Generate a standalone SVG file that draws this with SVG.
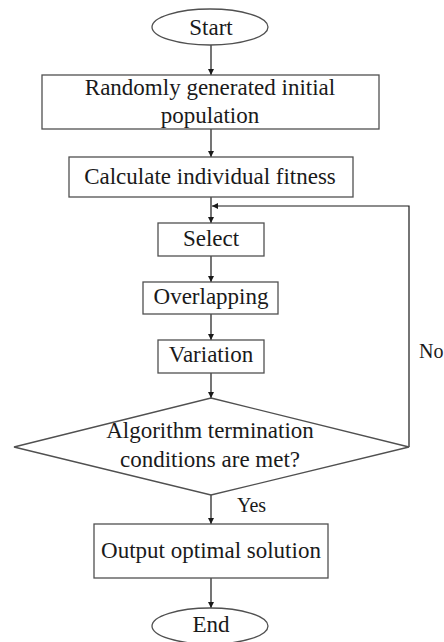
<svg xmlns="http://www.w3.org/2000/svg" width="444" height="642" viewBox="0 0 444 642">
<style>
.box{fill:#fff;stroke:#505050;stroke-width:1.3}
.t{font-family:"Liberation Serif","Times New Roman",serif;font-size:23px;fill:#1a1a1a;text-anchor:middle}
.lbl{font-family:"Liberation Serif","Times New Roman",serif;font-size:20px;fill:#1a1a1a}
.c{fill:none;stroke:#1a1a1a;stroke-width:1.2}
</style>
<defs>
<marker id="ah" markerUnits="userSpaceOnUse" markerWidth="7" markerHeight="7" refX="6" refY="3" orient="auto">
<path d="M0,0 L6,3 L0,6 z" fill="#1a1a1a"/>
</marker>
</defs>
<rect width="444" height="642" fill="#fff"/>
<g id="connectors">
<line class="c" x1="211" y1="45" x2="211" y2="75" marker-end="url(#ah)"/>
<line class="c" x1="211" y1="129" x2="211" y2="157" marker-end="url(#ah)"/>
<line class="c" x1="211" y1="197" x2="211" y2="223" marker-end="url(#ah)"/>
<line class="c" x1="211" y1="256" x2="211" y2="282" marker-end="url(#ah)"/>
<line class="c" x1="211" y1="314" x2="211" y2="340" marker-end="url(#ah)"/>
<line class="c" x1="211" y1="373" x2="211" y2="398" marker-end="url(#ah)"/>
<polyline class="c" points="409,447 409,206 212,206" marker-end="url(#ah)"/>
<line class="c" x1="211" y1="495" x2="211" y2="524" marker-end="url(#ah)"/>
<line class="c" x1="211" y1="578" x2="211" y2="608" marker-end="url(#ah)"/>
<text class="lbl" x="419" y="358">No</text>
<text class="lbl" x="237" y="512">Yes</text>
</g>
<g id="start">
<ellipse class="box" cx="210" cy="27" rx="58" ry="18"/>
<text class="t" x="211" y="35">Start</text>
</g>
<g id="init">
<rect class="box" x="42" y="75" width="337" height="54"/>
<text class="t" x="210" y="95">Randomly generated initial</text>
<text class="t" x="210" y="123">population</text>
</g>
<g id="fitness">
<rect class="box" x="69" y="157" width="284" height="40"/>
<text class="t" x="210" y="184">Calculate individual fitness</text>
</g>
<g id="select">
<rect class="box" x="158" y="223" width="106" height="33"/>
<text class="t" x="211" y="246">Select</text>
</g>
<g id="overlap">
<rect class="box" x="143" y="282" width="135" height="32"/>
<text class="t" x="211" y="304">Overlapping</text>
</g>
<g id="variation">
<rect class="box" x="158" y="340" width="106" height="33"/>
<text class="t" x="211" y="362">Variation</text>
</g>
<g id="decision">
<polygon class="box" points="211,398 409,447 211,495 14,447"/>
<text class="t" x="210" y="438">Algorithm termination</text>
<text class="t" x="210" y="467">conditions are met?</text>
</g>
<g id="output">
<rect class="box" x="94" y="524" width="234" height="54"/>
<text class="t" x="211" y="558">Output optimal solution</text>
</g>
<g id="end">
<ellipse class="box" cx="210" cy="626" rx="58" ry="18"/>
<text class="t" x="211" y="632">End</text>
</g>
</svg>
